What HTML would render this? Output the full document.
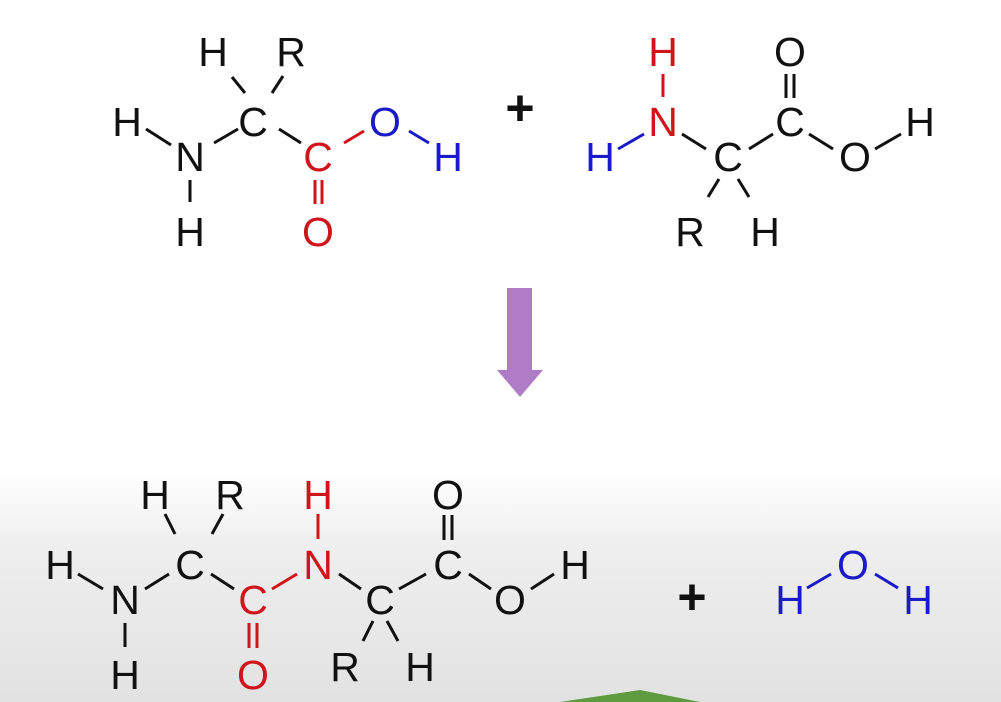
<!DOCTYPE html>
<html><head><meta charset="utf-8"><style>
html,body{margin:0;padding:0;}
body{width:1001px;height:702px;overflow:hidden;background:linear-gradient(to bottom,#fff 0px,#fff 470px,#eeeeee 550px,#e2e2e2 702px);}
svg{position:absolute;left:0;top:0;}
text{font-family:"Liberation Sans",sans-serif;font-size:41px;text-anchor:middle;dominant-baseline:central;}
.k{fill:#111}.r{fill:#d0141c}.b{fill:#1a1ac8}
.p{font-size:50px;font-weight:bold;}
line{stroke-width:3;stroke-linecap:butt}
.lk{stroke:#111}.lr{stroke:#d0141c}.lb{stroke:#1a1ac8}
</style></head><body>
<svg width="1001" height="702" viewBox="0 0 1001 702">
<polygon points="560,702 640,690 700,702" fill="#5e9a3e"/>
<g transform="translate(0,0)">
<text x="213" y="52" class="k">H</text><text x="291" y="52" class="k">R</text>
<text x="127" y="122" class="k">H</text><text x="253" y="122" class="k">C</text>
<text x="190" y="157" class="k">N</text><text x="385" y="122" class="b">O</text>
<text x="318" y="157" class="r">C</text><text x="448" y="157" class="b">H</text>
<text x="190" y="232" class="k">H</text><text x="318" y="232" class="r">O</text>
</g>
<line class="lk" x1="232" y1="77" x2="245" y2="93"/>
<line class="lk" x1="283" y1="76" x2="272" y2="93"/>
<line class="lk" x1="146" y1="129" x2="171" y2="145"/>
<line class="lk" x1="214" y1="143" x2="238" y2="129"/>
<line class="lk" x1="279" y1="129" x2="301" y2="143"/>
<line class="lr" x1="344" y1="143" x2="364" y2="131"/>
<line class="lb" x1="409" y1="131" x2="429" y2="143"/>
<line class="lk" x1="190" y1="180" x2="190" y2="202"/>
<line class="lr" x1="315" y1="180" x2="315" y2="204"/>
<line class="lr" x1="322" y1="180" x2="322" y2="204"/>
<text x="520" y="108" class="k p">+</text>
<text x="663" y="52" class="r">H</text><text x="663" y="122" class="r">N</text>
<text x="600" y="157" class="b">H</text><text x="728" y="157" class="k">C</text>
<text x="790" y="122" class="k">C</text><text x="790" y="52" class="k">O</text>
<text x="855" y="157" class="k">O</text><text x="920" y="122" class="k">H</text>
<text x="690" y="232" class="k">R</text><text x="765" y="232" class="k">H</text>
<line class="lr" x1="663" y1="74" x2="663" y2="97"/>
<line class="lb" x1="618" y1="149" x2="644" y2="134"/>
<line class="lk" x1="682" y1="134" x2="706" y2="149"/>
<line class="lk" x1="749" y1="149" x2="773" y2="134"/>
<line class="lk" x1="786" y1="74" x2="786" y2="98"/>
<line class="lk" x1="794" y1="74" x2="794" y2="98"/>
<line class="lk" x1="809" y1="134" x2="833" y2="149"/>
<line class="lk" x1="875" y1="149" x2="901" y2="134"/>
<line class="lk" x1="719" y1="179" x2="708" y2="197"/>
<line class="lk" x1="738" y1="179" x2="749" y2="197"/>
<polygon points="507,288 532,288 532,370 543,370 520,397 497,370 507,370" fill="#b07cc8"/>
<text x="155" y="495" class="k">H</text><text x="230" y="495" class="k">R</text>
<text x="60" y="565" class="k">H</text><text x="190" y="565" class="k">C</text>
<text x="125" y="600" class="k">N</text><text x="125" y="675" class="k">H</text>
<text x="253" y="600" class="r">C</text><text x="253" y="675" class="r">O</text>
<text x="318" y="565" class="r">N</text><text x="318" y="495" class="r">H</text>
<text x="380" y="600" class="k">C</text><text x="345" y="667" class="k">R</text>
<text x="420" y="667" class="k">H</text><text x="448" y="565" class="k">C</text>
<text x="448" y="495" class="k">O</text><text x="510" y="600" class="k">O</text>
<text x="575" y="565" class="k">H</text>
<line class="lk" x1="165" y1="514" x2="175" y2="534"/>
<line class="lk" x1="223" y1="514" x2="212" y2="534"/>
<line class="lk" x1="78" y1="574" x2="103" y2="589"/>
<line class="lk" x1="145" y1="589" x2="169" y2="574"/>
<line class="lk" x1="211" y1="574" x2="234" y2="589"/>
<line class="lr" x1="272" y1="589" x2="297" y2="574"/>
<line class="lr" x1="318" y1="514" x2="318" y2="539"/>
<line class="lk" x1="339" y1="574" x2="361" y2="589"/>
<line class="lk" x1="399" y1="589" x2="426" y2="574"/>
<line class="lk" x1="444" y1="515" x2="444" y2="540"/>
<line class="lk" x1="452" y1="515" x2="452" y2="540"/>
<line class="lk" x1="469" y1="574" x2="491" y2="589"/>
<line class="lk" x1="531" y1="589" x2="554" y2="574"/>
<line class="lk" x1="373" y1="621" x2="363" y2="641"/>
<line class="lk" x1="387" y1="621" x2="398" y2="641"/>
<line class="lk" x1="125" y1="623" x2="125" y2="647"/>
<line class="lr" x1="249" y1="623" x2="249" y2="648"/>
<line class="lr" x1="257" y1="623" x2="257" y2="648"/>
<text x="692" y="597" class="k p">+</text>
<text x="790" y="600" class="b">H</text><text x="853" y="565" class="b">O</text><text x="918" y="600" class="b">H</text>
<line class="lb" x1="807" y1="588" x2="831" y2="574"/>
<line class="lb" x1="875" y1="574" x2="898" y2="588"/>
</svg>
</body></html>
